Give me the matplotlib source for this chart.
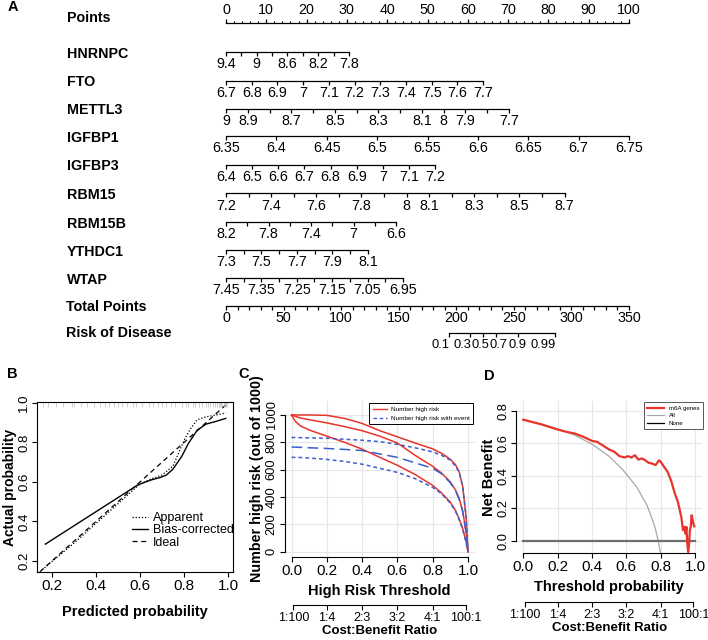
import numpy as np
import matplotlib
matplotlib.use('Agg')
import matplotlib.pyplot as plt
from matplotlib.lines import Line2D

plt.rcParams['font.family'] = ['Liberation Sans', 'DejaVu Sans']
plt.rcParams['axes.linewidth'] = 0.8

W, H = 708, 640

# ---------------- A: nomogram ----------------
nomo_vars = ['HNRNPC', 'FTO', 'METTL3', 'IGFBP1', 'IGFBP3',
             'RBM15', 'RBM15B', 'YTHDC1', 'WTAP']
nomo_lo = [9.4, 6.7, 9.0, 6.35, 6.4, 7.2, 8.2, 7.3, 7.45]      # value giving 0 points
nomo_hi = [7.8, 7.7, 7.7, 6.75, 7.2, 8.7, 6.6, 8.1, 6.95]      # value at end of scale
nomo_max_pts = [30.5, 63.8, 70.2, 100, 51.9, 84.0, 42.2, 35.2, 43.9]
nomo_step = [0.2, 0.1, 0.1, 0.05, 0.1, 0.1, 0.2, 0.1, 0.05]
nomo_labels = [
    [9.4, 9, 8.6, 8.2, 7.8],
    [6.7, 6.8, 6.9, 7, 7.1, 7.2, 7.3, 7.4, 7.5, 7.6, 7.7],
    [9, 8.9, 8.7, 8.5, 8.3, 8.1, 8, 7.9, 7.7],
    [6.35, 6.4, 6.45, 6.5, 6.55, 6.6, 6.65, 6.7, 6.75],
    [6.4, 6.5, 6.6, 6.7, 6.8, 6.9, 7, 7.1, 7.2],
    [7.2, 7.4, 7.6, 7.8, 8, 8.1, 8.3, 8.5, 8.7],
    [8.2, 7.8, 7.4, 7, 6.6],
    [7.3, 7.5, 7.7, 7.9, 8.1],
    [7.45, 7.35, 7.25, 7.15, 7.05, 6.95],
]
points_labels = [0, 10, 20, 30, 40, 50, 60, 70, 80, 90, 100]
total_labels = [0, 50, 100, 150, 200, 250, 300, 350]
risk_labels = [0.1, 0.3, 0.5, 0.7, 0.9, 0.99]
risk_lp_intercept = -16.49   # linear predictor = a + b * total points
risk_lp_slope = 0.0738

# ---------------- B: calibration ----------------
app_pred = [0.155, 0.3, 0.45, 0.6, 0.65, 0.7, 0.75, 0.8, 0.83, 0.86, 0.9, 0.95, 0.99]
app_obs = [0.155, 0.29, 0.44, 0.59, 0.615, 0.635, 0.68, 0.81, 0.87, 0.915, 0.93, 0.94, 0.95]
bias_pred = [0.17, 0.3, 0.45, 0.59, 0.65, 0.69, 0.72, 0.75, 0.79, 0.82, 0.86, 0.9, 0.94, 0.99]
bias_obs = [0.285, 0.378, 0.485, 0.585, 0.61, 0.622, 0.635, 0.665, 0.73, 0.795, 0.862, 0.893, 0.905, 0.922]
ideal_line = [0.145, 1.0]
rug_pred = [0.16, 0.18, 0.22, 0.25, 0.29, 0.30, 0.33, 0.36, 0.39, 0.42, 0.44, 0.46,
            0.48, 0.50, 0.52, 0.54, 0.57, 0.58, 0.61, 0.64, 0.66, 0.68, 0.70, 0.72,
            0.74, 0.76, 0.79, 0.81, 0.82, 0.84, 0.85, 0.87, 0.88, 0.90, 0.91, 0.92,
            0.93, 0.94, 0.95, 0.96, 0.965, 0.97, 0.975, 0.98, 0.985, 0.99, 0.995]

# ---------------- C: clinical impact ----------------
ci_thr = [0, 0.02, 0.05, 0.1, 0.2, 0.3, 0.4, 0.5, 0.6, 0.7, 0.8, 0.85, 0.9, 0.93, 0.95, 0.97, 0.99, 1.0]
hr_upper = [1000, 1000, 1000, 1000, 997, 975, 938, 885, 840, 795, 752, 720, 676, 635, 585, 480, 250, 0]
hr_mid = [1000, 990, 978, 965, 942, 915, 885, 845, 795, 705, 625, 575, 510, 450, 390, 300, 140, 0]
hr_lower = [1000, 955, 920, 890, 845, 800, 750, 690, 632, 565, 485, 430, 362, 300, 240, 170, 70, 0]
ev_upper = [835, 835, 834, 832, 830, 822, 815, 805, 785, 760, 730, 705, 670, 625, 580, 480, 250, 0]
ev_mid = [765, 765, 763, 760, 755, 748, 740, 715, 690, 650, 610, 570, 505, 445, 385, 295, 135, 0]
ev_lower = [690, 690, 689, 685, 675, 660, 640, 610, 580, 535, 470, 425, 355, 295, 235, 165, 65, 0]

cb_cost = [1, 1, 2, 3, 4, 100]
cb_benefit = [100, 4, 3, 2, 1, 1]

# ---------------- D: decision curve ----------------
dca_thr = [0, 0.1, 0.2, 0.25, 0.3, 0.35, 0.4, 0.43, 0.46, 0.5, 0.53, 0.56, 0.59, 0.61,
           0.63, 0.65, 0.67, 0.69, 0.71, 0.73, 0.75, 0.77, 0.78, 0.79, 0.8, 0.82, 0.84,
           0.86, 0.88, 0.9, 0.92, 0.93, 0.935, 0.94, 0.945, 0.95, 0.955, 0.96, 0.965,
           0.97, 0.975, 0.98, 0.985, 0.99, 0.995]
dca_model = [0.745, 0.718, 0.685, 0.671, 0.66, 0.64, 0.615, 0.609, 0.589, 0.562, 0.548,
             0.521, 0.513, 0.521, 0.513, 0.527, 0.50, 0.507, 0.496, 0.48, 0.476, 0.466,
             0.48, 0.496, 0.486, 0.455, 0.425, 0.373, 0.30, 0.24, 0.148, 0.066, 0.086,
             0.086, 0.045, 0.086, -0.016, -0.068, -0.027, 0.066, 0.086, 0.158, 0.137,
             0.107, 0.09]
all_thr = [0, 0.1, 0.2, 0.3, 0.4, 0.5, 0.58, 0.66, 0.72, 0.74, 0.76, 0.77, 0.786, 0.80]
all_nb = [0.745, 0.72, 0.688, 0.65, 0.595, 0.52, 0.437, 0.332, 0.22, 0.165, 0.107, 0.07, 0.0, -0.08]

RED = '#e8342a'
BLUE = '#3b5fd0'

fig = plt.figure(figsize=(W / 100, H / 100), dpi=100)
renderer = fig.canvas.get_renderer()


def fig_rect(left, top, right, bottom):
    return [left / W, 1 - bottom / H, (right - left) / W, (bottom - top) / H]


# ---------- nomogram ----------
px_per_pt = 4.03
x0_px = 226
axA = fig.add_axes([0, 1 - 360 / H, 1, 360 / H])
axA.set_xlim(-x0_px / px_per_pt, (W - x0_px) / px_per_pt)
axA.set_ylim(360, 0)
axA.axis('off')
name_tr = axA.get_yaxis_transform()

row_y = [52, 80.5, 108.5, 136, 164.5, 193, 221.5, 249.5, 277.5]
tick_len = 4
lab_off = 12.5
tick_fs = 10.3
name_fs = 10.3

# Points axis (ticks up, labels above)
y0 = 23
axA.plot([0, 100], [y0, y0], color='k', lw=0.9)
minor = np.arange(0, 101, 2)
axA.vlines(minor, y0 - 2.5, y0, color='k', lw=0.8)
axA.vlines(points_labels, y0 - tick_len, y0, color='k', lw=0.9)
for v in points_labels:
    axA.text(v, y0 - 12.5, '%g' % v, ha='center', va='center', fontsize=tick_fs)
axA.text(66.5 / W, 18, 'Points', transform=name_tr, ha='left', va='center',
         fontsize=name_fs, fontweight='bold')

for i, name in enumerate(nomo_vars):
    y = row_y[i]
    lo, hi, mp = nomo_lo[i], nomo_hi[i], nomo_max_pts[i]
    n = int(round(abs(hi - lo) / nomo_step[i])) + 1
    vals = np.linspace(lo, hi, n)
    pts = (vals - lo) / (hi - lo) * mp
    axA.plot([0, mp], [y, y], color='k', lw=0.9)
    axA.vlines(pts, y, y + tick_len, color='k', lw=0.9)
    for v in nomo_labels[i]:
        p = (v - lo) / (hi - lo) * mp
        axA.text(p, y + lab_off, '%g' % v, ha='center', va='center', fontsize=tick_fs)
    axA.text(66.5 / W, y + 2, name, transform=name_tr, ha='left', va='center',
             fontsize=name_fs, fontweight='bold')

# Total points
yt = 306
tp_ticks = np.arange(0, 351, 10)
axA.plot([0, 100], [yt, yt], color='k', lw=0.9)
axA.vlines(tp_ticks * 100 / 350, yt, yt + tick_len, color='k', lw=0.9)
for v in total_labels:
    axA.text(v * 100 / 350, yt + 11.5, '%g' % v, ha='center', va='center', fontsize=tick_fs)
axA.text(66.5 / W, yt + 1, 'Total Points', transform=name_tr, ha='left', va='center',
         fontsize=name_fs, fontweight='bold')

# Risk of disease: labels squeezed so they do not run into each other
yr = 333
risk_lp = np.log(np.array(risk_labels) / (1 - np.array(risk_labels)))
risk_tp = (risk_lp - risk_lp_intercept) / risk_lp_slope
risk_x = risk_tp * 100 / 350
axA.plot([risk_x[0], risk_x[-1]], [yr, yr], color='k', lw=0.9)
axA.vlines(risk_x, yr, yr + tick_len, color='k', lw=0.9)
prev_right = -1e9
for v, x in zip(risk_labels, risk_x):
    t = axA.text(x, yr + 12, '%g' % v, ha='left', va='center', fontsize=9.3)
    w = t.get_window_extent(renderer).width
    tick_px = x0_px + x * px_per_pt
    left = max(tick_px - w + 1, prev_right + 0.5)
    t.set_x((left - x0_px) / px_per_pt)
    prev_right = left + w
axA.text(66.5 / W, yr, 'Risk of Disease', transform=name_tr, ha='left', va='center',
         fontsize=name_fs, fontweight='bold')

# ---------- B: calibration ----------
axB = fig.add_axes(fig_rect(37, 402, 233.5, 572))
axB.plot(app_pred, app_obs, color='k', lw=0.9, ls=(0, (1, 1.5)), label='Apparent')
axB.plot(bias_pred, bias_obs, color='k', lw=1.0, label='Bias-corrected')
axB.plot(ideal_line, ideal_line, color='k', lw=0.9, ls=(0, (4, 3)), label='Ideal')
axB.vlines(rug_pred, 0.97, 1.0, transform=axB.get_xaxis_transform(), color='#bdbdbd', lw=0.5)
axB.set_xlim(0.132, 1.025)
axB.set_ylim(0.144, 1.005)
axB.set_xticks([0.2, 0.4, 0.6, 0.8, 1.0])
axB.set_yticks([0.2, 0.4, 0.6, 0.8, 1.0])
axB.tick_params(labelsize=11, length=3.5, width=0.8, pad=1.5)
axB.tick_params(axis='y', labelrotation=90, labelsize=9.5)
for t in axB.get_yticklabels():
    t.set_va('center')
axB.set_xlabel('Predicted probability', fontsize=10.5, fontweight='bold', labelpad=9)
axB.set_ylabel('Actual probability', fontsize=10, fontweight='bold', labelpad=1)
axB.legend(loc='upper left', bbox_to_anchor=(132 / W, 1 - 512 / H),
           bbox_transform=fig.transFigure, frameon=False, fontsize=9,
           handlelength=1.3, handletextpad=0.35, labelspacing=0.02, borderpad=0,
           borderaxespad=0)


def r_axes(ax, ylo, yhi):
    for s in ('top', 'right'):
        ax.spines[s].set_visible(False)
    ax.spines['bottom'].set_bounds(0, 1)
    ax.spines['left'].set_bounds(ylo, yhi)
    ax.set_xticks([0, 0.2, 0.4, 0.6, 0.8, 1.0])
    ax.grid(True, color='#e6e6e6', lw=0.8)
    ax.set_axisbelow(True)
    ax.tick_params(labelsize=11, length=3.5, width=0.8, pad=1.5)
    ax.tick_params(axis='y', labelrotation=90, labelsize=9.3)
    for t in ax.get_yticklabels():
        t.set_va('center')


cb_thr = [c / (c + b) for c, b in zip(cb_cost, cb_benefit)]
cb_text = ['%d:%d' % (c, b) for c, b in zip(cb_cost, cb_benefit)]


def cost_axis(ax, loc):
    sec = ax.secondary_xaxis(loc)
    sec.set_xticks(cb_thr, cb_text)
    sec.spines['bottom'].set_bounds(cb_thr[0], cb_thr[-1])
    sec.tick_params(labelsize=9, length=3.5, width=0.8, pad=1.5)
    sec.set_xlabel('Cost:Benefit Ratio', fontsize=9.5, fontweight='bold', labelpad=1)
    return sec


# ---------- C: clinical impact ----------
axC = fig.add_axes(fig_rect(284.5, 401, 475, 557.2))
axC.plot(ci_thr, hr_upper, color=RED, lw=1.1)
axC.plot(ci_thr, hr_mid, color=RED, lw=1.1)
axC.plot(ci_thr, hr_lower, color=RED, lw=1.1)
axC.plot(ci_thr, ev_upper, color=BLUE, lw=1.1, ls=(0, (2.5, 2)))
axC.plot(ci_thr, ev_mid, color=BLUE, lw=1.1, ls=(0, (7, 3.5)))
axC.plot(ci_thr, ev_lower, color=BLUE, lw=1.1, ls=(0, (2.5, 2)))
axC.set_xlim(-0.04, 1.04)
axC.set_ylim(-40, 1102)
axC.set_yticks([0, 200, 400, 600, 800, 1000])
r_axes(axC, 0, 1000)
axC.set_xlabel('High Risk Threshold', fontsize=10.5, fontweight='bold', labelpad=4)
axC.set_ylabel('Number high risk (out of 1000)', fontsize=10.3, fontweight='bold', labelpad=1)
cost_axis(axC, -0.306)
handles = [Line2D([], [], color=RED, lw=1.0),
           Line2D([], [], color=BLUE, lw=1.0, ls=(0, (2.5, 2)))]
legC = axC.legend(handles, ['Number high risk', 'Number high risk with event'],
                  loc='upper right', bbox_to_anchor=(473 / W, 1 - 403 / H),
                  bbox_transform=fig.transFigure, fontsize=4.6, fancybox=False,
                  edgecolor='k', framealpha=1, handlelength=2.2, handletextpad=0.6,
                  borderpad=0.55, labelspacing=0.55, borderaxespad=0)
legC.get_frame().set_linewidth(0.7)

# ---------- D: decision curve ----------
axD = fig.add_axes(fig_rect(516.4, 401, 701.9, 553))
axD.plot(all_thr, all_nb, color='#a8a8a8', lw=0.9)
axD.plot([0, 1], [0, 0], color='#6e6e6e', lw=1.6)
axD.plot(dca_thr, dca_model, color=RED, lw=1.6)
axD.set_xlim(-0.04, 1.04)
axD.set_ylim(-0.074, 0.86)
axD.set_yticks([0, 0.2, 0.4, 0.6, 0.8])
axD.set_yticklabels(['0.0', '0.2', '0.4', '0.6', '0.8'])
r_axes(axD, 0, 0.8)
axD.set_xlabel('Threshold probability', fontsize=10.5, fontweight='bold', labelpad=4)
axD.set_ylabel('Net Benefit', fontsize=10.5, fontweight='bold', labelpad=1)
cost_axis(axD, -0.32)
handles = [Line2D([], [], color=RED, lw=1.6),
           Line2D([], [], color='#a8a8a8', lw=0.8),
           Line2D([], [], color='k', lw=0.9)]
legD = axD.legend(handles, ['m6A genes', 'All', 'None'],
                  loc='upper right', bbox_to_anchor=(703 / W, 1 - 402 / H),
                  bbox_transform=fig.transFigure, fontsize=4.4, fancybox=False,
                  edgecolor='#555555', framealpha=1, handlelength=2.8, handletextpad=0.7,
                  borderpad=0.6, labelspacing=0.35, borderaxespad=0)
legD.get_frame().set_linewidth(0.7)

# panel letters
for letter, (x, y) in zip('ABCD', [(13, 7), (12.5, 374), (243.5, 373.5), (489, 376)]):
    fig.text(x / W, 1 - y / H, letter, ha='center', va='center', fontsize=10.5,
             fontweight='bold')

fig.savefig('out.png', dpi=100, facecolor='white')
